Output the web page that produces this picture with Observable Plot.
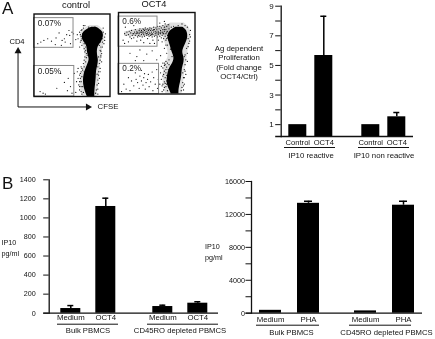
<!DOCTYPE html>
<html><head><meta charset="utf-8">
<script src="https://cdn.jsdelivr.net/npm/d3@7"></script>
<script src="https://cdn.jsdelivr.net/npm/@observablehq/plot@0.6"></script>
<style>
html,body{margin:0;padding:0;background:#fff}
#fig{position:relative;width:435px;height:339px;overflow:hidden;background:#fff;font-family:"Liberation Sans",sans-serif;color:#111;filter:blur(.3px)}
#fig svg{position:absolute;left:0;top:0}
.t{position:absolute;white-space:pre;line-height:1}
</style></head><body><div id="fig"></div>
<script>
// Panel A, flow cytometry: dense population outline [CD4 %, CFSE lo %, CFSE hi %]
const controlBlob=[[84,76,82],[82,71,86],[79,66,90],[74,63,92],[68,64,90],[64,68,87],[60,70,84],[54,70,83],[48,72,84],[44,73,85],[37,70,84],[31,67,82],[23,65,82],[15,65,81],[7,67,80],[0,70,80]];
const oct4Blob=[[82,75,84],[79,70,88],[76,66,90],[70,64,91],[64,66,89],[58,68,86],[51,70,83],[45,73,86],[39,72,86],[31,66,83],[23,64,83],[14,63,81],[6,66,79],[0,69,79]];
// sparser fringe of the same populations
const controlFringe=[[86,74,84],[82,64,91],[74,60,94],[66,62,93],[58,66,90],[48,68,89],[38,66,88],[28,62,86],[14,60,85],[0,64,83]];
const oct4Fringe=[[87,68,86],[83,60,92],[76,56,95],[64,60,94],[56,64,91],[46,66,90],[36,60,88],[24,58,86],[12,58,85],[0,62,83]];
// dense CD4-high dividing band in the OCT4 panel [CFSE %, CD4 lo %, CD4 hi %]
const oct4Band=[[8,71,76],[20,70,79],[30,70,80],[40,71,81],[50,71,82],[60,72,84],[68,72,86]];
// individual events [CFSE %, CD4 %]
const controlEvents=[[5,64],[9,66],[13,68],[18,70],[23,67],[29,71],[33,77],[37,68],[40,70],[43,75],[46,80],[47,74],[48,64],[50,78],[52,76],[55,69],[57,75],[28,63],[36,62],[41,66],
[58,70],[60,78],[61,66],[62,73],[63,81],[63,62],[64,76],[60,60],[65,83],[66,58],[66,64],[90,70],[91,78],[92,64],[90,60],[88,55],[86,62],[89,52],[85,48],[87,44],[86,40],[84,36],[85,30],[83,27],[84,20],[83,14],[82,8],[81,4],[93,72],[87,66],[67,86],[72,84],[80,84],
[57,30],[58,22],[59,14],[60,8],[61,28],[62,18],[63,24],[64,12],[64,32],[65,5],[62,36],[60,26],[58,34],[56,18],[66,36],[68,42],[69,47],[70,50],[67,54],[55,5],
[8,6],[12,4],[15,3],[30,10],[40,17],[45,22],[48,12],[50,4],[35,28],[44,7],[53,28],
[62,68],[63,70],[61,75],[62,80],[65,86],[68,60],[68,56],[69,52],[67,48],[66,44],[65,40],[63,34],[62,30],[61,22],[62,12],[62,6],[63,3],[60,18],[60,12],[66,30],[85,26],[86,22],[85,16],[84,9],[84,3],[87,34],[88,48],[87,56],[88,60],[90,66],[93,68],[94,76],[91,83],[88,50],[89,42],[87,30]];
const oct4Events=[[8,74],[10,72],[11,76],[13,73],[14,77],[15,70],[16,75],[17,78],[18,72],[19,74],[20,69],[21,76],[22,79],[22,72],[23,74],[24,77],[25,70],[25,75],[26,72],[27,78],[27,74],[28,80],[28,71],[29,76],[30,73],[30,78],[31,75],[31,70],[32,80],[32,77],[33,73],[33,75],[34,78],[34,71],[35,76],[35,81],[36,74],[36,79],[37,72],[37,77],[38,75],[38,80],[39,73],[39,78],[40,76],[40,71],[41,81],[41,74],[42,78],[42,72],[43,76],[43,80],[44,74],[44,70],[45,78],[45,73],[46,82],[46,76],[47,71],[47,79],[48,74],[48,77],[49,81],[49,72],[50,75],[50,79],[51,70],[51,83],[52,77],[52,73],[53,80],[53,75],[54,71],[54,83],[55,78],[55,74],[56,81],[56,69],[57,76],[57,72],[58,84],[58,79],[59,74],[59,68],[60,82],[60,77],[61,71],[61,86],[62,79],[62,74],[63,83],[63,68],[64,77],[64,72],[65,85],[66,80],[66,66],
[6,66],[9,82],[13,64],[17,68],[20,84],[24,65],[29,66],[33,63],[38,68],[41,62],[45,66],[47,62],[52,66],[54,87],[57,64],[60,89],[62,60],[8,62],
[15,50],[24,46],[28,54],[37,49],[44,53],[50,42],[55,47],[60,56],[63,50],[66,42],[68,55],[58,38],[64,60],[69,62],[70,46],[33,41],[22,41],
[4,3],[7,12],[10,6],[13,20],[15,4],[17,16],[20,10],[22,26],[23,18],[25,14],[27,7],[28,22],[30,16],[30,29],[32,11],[33,20],[34,25],[35,6],[36,14],[38,18],[39,24],[40,9],[42,15],[44,27],[45,4],[46,20],[48,12],[50,30],[51,7],[52,18],
[55,26],[56,18],[57,10],[58,32],[58,22],[59,5],[60,15],[60,28],[61,36],[61,20],[62,9],[62,26],[63,33],[63,16],[64,4],[63,23],[60,38],[65,30],[66,36],[64,38],[56,34],[54,12],[57,3],
[84,26],[85,20],[84,14],[83,8],[82,4],[86,30],[87,36],[88,42],[86,46],[90,50],[89,56],[92,62],[91,68],[93,73],[94,78],[90,82],[87,84],[83,86],[78,84],[72,83],[69,82],[88,24],[86,12],[85,5],
[30,76],[33,79],[37,74],[40,79],[43,73],[46,79],[49,76],[52,75],[55,76],[58,75],[20,74],[24,75],[27,76],[60,79],[63,76],[62,66],[64,69],[60,35],[62,40],[62,30],[61,13],[60,8],[59,24],[63,12],[58,12],[86,20],[87,28],[85,10],[87,48],[91,58],[93,65],[94,70],[90,40]];
// gates [x1,x2,y1,y2,label]
const controlGates=[[0,52,59,95,"0.07%"],[0,53,0,37,"0.05%"]];
const oct4Gates=[[0,51,58,95,"0.6%"],[0,53,0,37,"0.2%"]];

// Panel A, bars
const aGroups=["IP10 reactive","IP10 non reactive"];
const aCats=["Control","OCT4"];
const aValues=[1,5.67,1,1.53];
const aErrors=[null,8.32,null,1.82];
// Panel B left
const bGroups=["Bulk PBMCS","CD45RO depleted PBMCS"];
const bCats=["Medium","OCT4"];
const bValues=[49,1120,70,105];
const bErrors=[80,1207,84,120];
// Panel B right
const cCats=["Medium","PHA"];
const cValues=[350,13350,280,13120];
const cErrors=[null,13600,null,13600];

const fig=document.getElementById("fig");
const FONT='"Liberation Sans",sans-serif';
const W=435,H=339;
const base={width:W,height:H,style:{background:"none",fontFamily:FONT,overflow:"visible",color:"#111"}};

function flow(box,blob,fringe,band,events,gates,extra=[]){
  return Plot.plot({...base,marginLeft:box[0],marginRight:W-box[1],marginTop:box[2],marginBottom:H-box[3],
    x:{domain:[0,100],axis:null},y:{domain:[0,100],axis:null},
    marks:[
      Plot.areaX(fringe,{y:d=>d[0],x1:d=>d[1],x2:d=>d[2],fill:"#000",fillOpacity:.12,curve:"basis"}),
      Plot.areaY(band,{x:d=>d[0],y1:d=>d[1],y2:d=>d[2],fill:"#000",fillOpacity:.16,curve:"basis"}),
      Plot.dot(events,{x:d=>d[0],y:d=>d[1],r:.62,fill:"#111",stroke:"none"}),
      Plot.areaX(blob,{y:d=>d[0],x1:d=>d[1],x2:d=>d[2],fill:"#000",curve:"basis"}),
      Plot.rect(gates,{x1:d=>d[0],x2:d=>d[1],y1:d=>d[2],y2:d=>d[3],stroke:"#8a8a8a",strokeWidth:1,fill:"none"}),
      Plot.text(gates,{x:d=>d[0]+5,y:d=>d[3]-6,text:d=>d[4],fontSize:8.2,textAnchor:"start",fill:"#222"}),
      Plot.frame({stroke:"#111",strokeWidth:1.4}),
      ...extra
    ]});
}
const arrowPath=[{x:-21,y:55},{x:-21,y:-12.7},{x:71,y:-12.7}];
fig.append(flow([33.5,109.5,13.5,96],controlBlob,controlFringe,[],controlEvents,controlGates,[
  Plot.line(arrowPath,{x:"x",y:"y",stroke:"#111",strokeWidth:1}),
  Plot.dot([arrowPath[0]],{x:"x",y:"y",symbol:"triangle",r:2.6,fill:"#111"}),
  Plot.dot([arrowPath[2]],{x:"x",y:"y",symbol:"triangle",r:2.6,fill:"#111",rotate:90})
]));
fig.append(flow([118,194.5,12,93.5],oct4Blob,oct4Fringe,oct4Band,oct4Events,oct4Gates));

function tidy(groups,cats,values,errors){
  return values.map((v,i)=>({g:groups[i>>1],c:cats[i%2],v,e:errors[i]}));
}
function bars(o){
  const data=tidy(o.groups,o.cats,o.values,o.errors);
  const y0=o.domain[0];
  const margins={marginLeft:o.frame[0],marginRight:W-o.frame[1],marginTop:o.frame[2],marginBottom:H-o.frame[3]};
  fig.append(Plot.plot({...base,...margins,
    y:{domain:o.domain,label:null,axis:null},x:{axis:null},
    marks:[
      Plot.ruleY([y0],{stroke:"#111",strokeWidth:1.3,insetLeft:-5.5}),
      Plot.frame({anchor:"left",stroke:"#111",strokeWidth:1.3}),
      Plot.axisY(o.ticks,{anchor:"left",tickSize:5.5,tickPadding:o.tickPad,fontSize:o.tickSize,tickFormat:o.fmt,label:null,stroke:"#111",strokeWidth:1,fill:"#111"})
    ]}));
  fig.append(Plot.plot({...base,...margins,
    fx:{domain:o.groups,paddingInner:o.fxInner,paddingOuter:o.fxOuter,label:null,axis:null},
    x:{domain:o.cats,paddingInner:o.xInner,paddingOuter:o.xInner/2,label:null,axis:null},
    y:{domain:o.domain,label:null,axis:null},
    marks:[
      Plot.barY(data,{fx:"g",x:"c",y1:()=>y0,y2:"v",fill:"#000"}),
      Plot.ruleX(data.filter(d=>d.e!=null),{fx:"g",x:"c",y1:"v",y2:"e",stroke:"#000",strokeWidth:1.5}),
      Plot.tickY(data.filter(d=>d.e!=null),{fx:"g",x:"c",y:"e",stroke:"#000",strokeWidth:1.5,insetLeft:o.cap,insetRight:o.cap}),
      Plot.axisX({anchor:"bottom",tickSize:0,tickPadding:o.catPad,fontSize:o.catSize,label:null,fill:"#111"}),
      Plot.axisFx({anchor:"bottom",tickSize:0,tickPadding:o.groupPad,fontSize:o.groupSize,label:null,fill:"#111",dx:o.groupDx||0}),
      ...o.groups.map((g,i)=>Plot.ruleY([g],{fx:d=>d,y:()=>y0,dy:o.lineDy,stroke:"#111",strokeWidth:1,insetLeft:o.lineInset[i][0],insetRight:o.lineInset[i][1]}))
    ]}));
}
bars({groups:aGroups,cats:aCats,values:aValues,errors:aErrors,domain:[.2,9],frame:[280.7,413,5.7,136],
  fxInner:.279,fxOuter:.04,xInner:.3,cap:6,catPad:3,catSize:7.6,groupPad:16,groupSize:7.8,lineDy:11,lineInset:[[0,2],[1,1]],
  ticks:[1,2,3,4,5,6,7,8,9],fmt:d=>d%2?String(d):"",tickPad:2,tickSize:8});
bars({groups:bGroups,cats:bCats,values:bValues,errors:bErrors,domain:[0,1400],frame:[48.7,218,179.3,312.7],
  fxInner:.225,fxOuter:.024,xInner:.42,cap:7,catPad:1,catSize:7.8,groupPad:14,groupSize:7.7,lineDy:11,lineInset:[[5,5],[3,-3]],
  ticks:d3.range(0,1401,200),fmt:d=>String(d),tickPad:8,tickSize:7.2});
bars({groups:bGroups,cats:cCats,values:cValues,errors:cErrors,domain:[0,16000],frame:[251,422,181,312.7],
  fxInner:.203,fxOuter:.0,xInner:.434,cap:7,catPad:3,catSize:7.8,groupPad:16,groupSize:7.7,groupDx:2,lineDy:12,lineInset:[[5,8],[3,11]],
  ticks:d3.range(0,16001,2000),fmt:d=>d%4000?"":String(d),tickPad:1,tickSize:7.2});

const labels=[
 ["A",2,0,17,"start"],["B",2,174.5,17,"start"],
 ["control",76,1,9.3,"middle"],["OCT4",154,0,9.3,"middle"],
 ["CD4",17,37.5,7.6,"middle"],["CFSE",108,103,7.8,"middle"],
 ["Ag dependent\nProliferation\n(Fold change\nOCT4/Ctrl)",239,44,7.8,"middle",1.19],
 ["IP10\npg/ml",1.5,237,7.2,"start",1.55],["IP10\npg/ml",205,241,7.2,"start",1.55]
];
for(const [s,x,y,fs,anchor,lh] of labels){
  const d=document.createElement("div");d.className="t";d.textContent=s;
  d.style.left=x+"px";d.style.top=y+"px";d.style.fontSize=fs+"px";
  if(lh)d.style.lineHeight=lh;
  if(anchor==="middle"){d.style.transform="translateX(-50%)";d.style.textAlign="center"}
  fig.append(d);
}
</script></body></html>
